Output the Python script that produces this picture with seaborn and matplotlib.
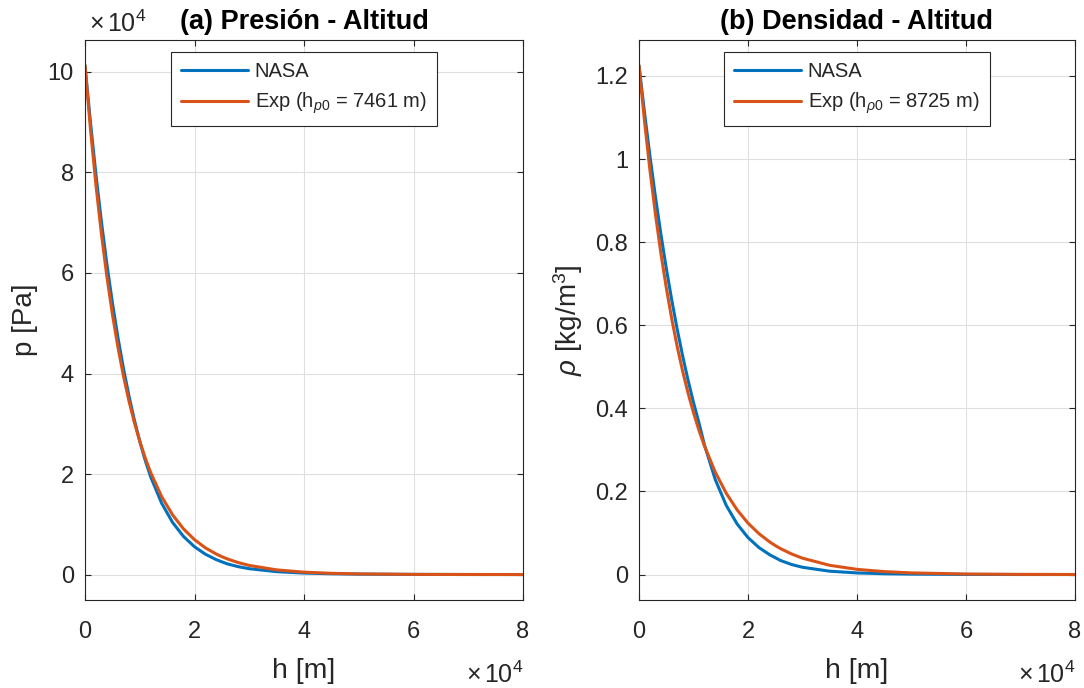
import numpy as np
import pandas as pd
import matplotlib
matplotlib.use("Agg")
import matplotlib.pyplot as plt
import seaborn as sns
from matplotlib.ticker import FuncFormatter, FixedLocator

# ---- data ----
h_m = [0, 1000, 2000, 3000, 4000, 5000, 6000, 7000, 8000, 9000, 10000, 11000,
       12000, 14000, 16000, 18000, 20000, 22000, 24000, 25000, 26000, 28000,
       30000, 35000, 40000, 45000, 50000, 60000, 70000, 80000]
p_nasa = [101290, 89960, 79580, 70200, 61730, 54110, 47270, 41150, 35690, 30830,
          26520, 22710, 19420, 14190, 10360, 7570, 5530, 4040, 2951, 2523, 2124,
          1564, 1161, 569.5, 291.2, 154.7, 84.9, 27.9, 10.1, 4.0]
p_exp = [101290, 88584, 77473, 67757, 59258, 51826, 45324, 39639, 34665, 30317,
         26515, 23189, 20280, 15512, 11864, 9074, 6940, 5308, 4060, 3551, 3106,
         2375, 1816, 929, 475, 243, 124.5, 32.6, 8.5, 2.2]
rho_nasa = [1.2253, 1.1133, 1.0081, 0.9107, 0.8207, 0.7376, 0.6612, 0.5910, 0.5266,
            0.4678, 0.4141, 0.3652, 0.3124, 0.2283, 0.1667, 0.1218, 0.0890, 0.0650,
            0.0475, 0.0406, 0.0337, 0.02416, 0.01747, 0.00805, 0.00388, 0.00195,
            0.00102, 0.000303, 0.000101, 0.0000366]
rho_exp = [1.2253, 1.0926, 0.9743, 0.8688, 0.7747, 0.6908, 0.6160, 0.5493, 0.4898,
           0.4368, 0.3895, 0.3473, 0.3097, 0.2463, 0.1958, 0.1557, 0.1238, 0.0985,
           0.0783, 0.0698, 0.0622, 0.0495, 0.0394, 0.0222, 0.0125, 0.00705,
           0.00398, 0.00126, 0.00040, 0.000127]
series_names = ["NASA", "Exp"]
legend_p = ["NASA", r"Exp (h$_{p0}$ = 7461 m)"]
legend_rho = ["NASA", r"Exp (h$_{\rho 0}$ = 8725 m)"]
titles = ["(a) Presión - Altitud", "(b) Densidad - Altitud"]
xticks = [0, 20000, 40000, 60000, 80000]
yticks_p = [0, 20000, 40000, 60000, 80000, 100000]
yticks_rho = [0, 0.2, 0.4, 0.6, 0.8, 1.0, 1.2]

# ---- style ----
sns.set_theme(style="white")
plt.rcParams["font.family"] = ["Liberation Sans", "DejaVu Sans"]
plt.rcParams["mathtext.fontset"] = "custom"
plt.rcParams["mathtext.rm"] = "Liberation Sans"
plt.rcParams["mathtext.it"] = "Liberation Sans:italic"
plt.rcParams["mathtext.bf"] = "Liberation Sans:bold"

BLUE = "#0072BD"
ORANGE = "#D95319"
DARK = "#262626"
palette = {"NASA": BLUE, "Exp": ORANGE}

fig = plt.figure(figsize=(10.84, 6.88), dpi=100)
ax1 = fig.add_axes([85 / 1084, 88 / 688, 438 / 1084, 560 / 688])
ax2 = fig.add_axes([639 / 1084, 88 / 688, 436 / 1084, 560 / 688])

df_p = pd.DataFrame({"h": h_m * 2, "v": p_nasa + p_exp,
                     "modelo": ["NASA"] * len(h_m) + ["Exp"] * len(h_m)})
df_r = pd.DataFrame({"h": h_m * 2, "v": rho_nasa + rho_exp,
                     "modelo": ["NASA"] * len(h_m) + ["Exp"] * len(h_m)})

for ax, df, leg, title, yt, ylab, ylx in [
    (ax1, df_p, legend_p, titles[0], yticks_p, "p [Pa]", -0.107),
    (ax2, df_r, legend_rho, titles[1], yticks_rho, r"$\rho$ [kg/m$^3$]", -0.124),
]:
    sns.lineplot(data=df, x="h", y="v", hue="modelo", hue_order=series_names,
                 palette=palette, linewidth=2.2, ax=ax, legend=False,
                 estimator=None, sort=False)
    vmax = max(df["v"])
    ax.set_xlim(0, 80000)
    ax.set_ylim(-0.05 * vmax, 1.05 * vmax)
    ax.xaxis.set_major_locator(FixedLocator(xticks))
    ax.yaxis.set_major_locator(FixedLocator(yt))
    ax.xaxis.set_major_formatter(FuncFormatter(lambda v, p: f"{v/1e4:g}"))
    if ax is ax1:
        ax.yaxis.set_major_formatter(FuncFormatter(lambda v, p: f"{v/1e4:g}"))
    else:
        ax.yaxis.set_major_formatter(FuncFormatter(lambda v, p: f"{v:g}"))
    ax.grid(True, color="#dfdfdf", linewidth=0.8)
    ax.set_axisbelow(True)
    for s in ax.spines.values():
        s.set_color(DARK)
        s.set_linewidth(0.8)
        s.set_visible(True)
    ax.tick_params(direction="in", length=4, width=0.8, color=DARK,
                   labelcolor=DARK, labelsize=17, top=True, right=True,
                   bottom=True, left=True)
    ax.tick_params(axis="x", pad=15)
    ax.tick_params(axis="y", pad=8)
    ax.set_xlabel("h [m]", fontsize=20.5, color=DARK, labelpad=11)
    ax.set_ylabel(ylab, fontsize=20, color=DARK)
    ax.yaxis.set_label_coords(ylx, 0.5)
    ax.set_title(title, fontsize=19.5, fontweight="bold", color="black", pad=8)
    ax.legend(handles=ax.get_lines()[:2], labels=leg, loc="upper center",
              bbox_to_anchor=(0.5, 0.978), fontsize=14.5, frameon=True,
              fancybox=False, edgecolor=DARK, framealpha=1,
              handlelength=3.3, handletextpad=0.35, borderpad=0.5,
              labelspacing=0.45, borderaxespad=0)
    ax.legend_.get_frame().set_linewidth(0.8)
    # x10^4 multiplier at the end of the x axis
    ax.text(1.0, -0.148, r"$\times\,$10$^{4}$", transform=ax.transAxes,
            ha="right", va="baseline", fontsize=18, color=DARK)

ax1.text(0.01, 1.014, r"$\times\,$10$^{4}$", transform=ax1.transAxes,
         ha="left", va="baseline", fontsize=18, color=DARK)

fig.savefig("out.png", dpi=100)
